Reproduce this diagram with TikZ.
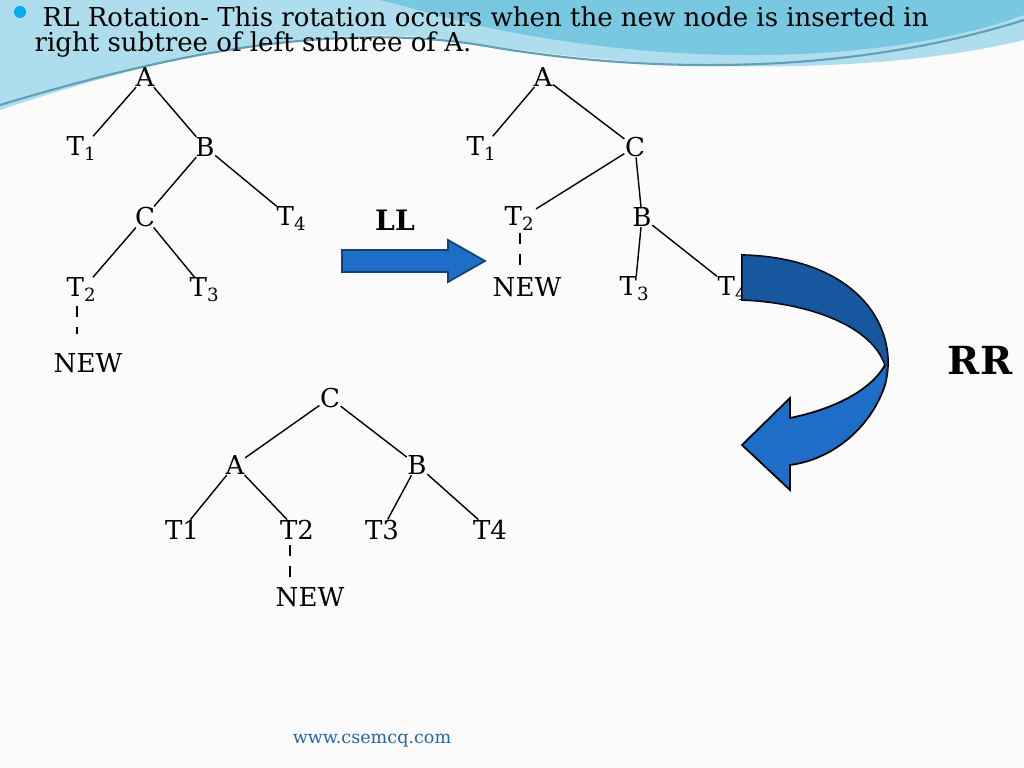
\documentclass[tikz,border=0pt]{standalone}
\usepackage{fontspec}
\setmainfont{DejaVu Serif}
\usetikzlibrary{positioning}
\definecolor{arrowblue}{RGB}{30,110,200}
\definecolor{bandblue}{RGB}{120,200,225}
\definecolor{webblue}{RGB}{40,100,170}
\begin{document}
\begin{tikzpicture}[x=0.01cm,y=-0.01cm,
    tn/.style={font=\fontsize{7.4}{8}\selectfont, inner sep=0pt},
    edge/.style={black, line width=0.4pt},
    newlink/.style={black, dashed, line width=0.4pt}]
    \useasboundingbox (0,0) rectangle (1024,768);
    \fill[white!97!gray] (0,0) rectangle (1024,768);

    % header band
    \fill[bandblue!60] (0,0) -- (1024,0) -- (1024,40) .. controls (900,70) and (700,80) .. (450,40) .. controls (300,20) and (120,70) .. (0,110) -- cycle;
    \fill[bandblue] (380,0) -- (1024,0) -- (1024,15) .. controls (900,60) and (700,70) .. (500,30) .. controls (450,20) and (420,10) .. (380,0) -- cycle;
    \draw[bandblue!80!black, line width=0.6pt] (0,105) .. controls (150,60) and (320,20) .. (480,45) .. controls (650,75) and (850,75) .. (1024,20);
    \fill[cyan] (20,12) circle (6);
    \node[tn, anchor=west] (title1) at (42,17) {RL Rotation- This rotation occurs when the new node is inserted in};
    \node[tn, anchor=west] (title2) at (34,45) {right subtree of left subtree of A.};

    % first tree
    \node[tn] (a1) at (145,77) {A};
    \node[tn] (ta1) at (82,149) {T\textsubscript{1}};
    \node[tn] (b1) at (205,147) {B};
    \node[tn] (c1) at (145,217) {C};
    \node[tn] (tb1) at (292,219) {T\textsubscript{4}};
    \node[tn] (tc1) at (82,290) {T\textsubscript{2}};
    \node[tn] (td1) at (205,290) {T\textsubscript{3}};
    \node[tn] (new1) at (88,363) {NEW};
    \draw[edge] (a1) -- (ta1);
    \draw[edge] (a1) -- (b1);
    \draw[edge] (b1) -- (c1);
    \draw[edge] (b1) -- (tb1);
    \draw[edge] (c1) -- (tc1);
    \draw[edge] (c1) -- (td1);
    \draw[newlink] (77,306) -- (77,334);

    % LL arrow
    \node[tn, font=\fontsize{8}{9}\selectfont\bfseries] (ll) at (395,220) {LL};
    \fill[arrowblue] (342,250) -- (448,250) -- (448,240) -- (485,261) -- (448,282) -- (448,272) -- (342,272) -- cycle;
    \draw[arrowblue!60!black, line width=0.5pt] (342,250) -- (448,250) -- (448,240) -- (485,261) -- (448,282) -- (448,272) -- (342,272) -- cycle;

    % second tree
    \node[tn] (a2) at (543,77) {A};
    \node[tn] (ta2) at (482,149) {T\textsubscript{1}};
    \node[tn] (c2) at (635,147) {C};
    \node[tn] (tc2) at (520,219) {T\textsubscript{2}};
    \node[tn] (b2) at (642,217) {B};
    \node[tn] (new2) at (527,287) {NEW};
    \node[tn] (td2) at (635,289) {T\textsubscript{3}};
    \node[tn] (tb2) at (733,289) {T\textsubscript{4}};
    \draw[edge] (a2) -- (ta2);
    \draw[edge] (a2) -- (c2);
    \draw[edge] (c2) -- (tc2);
    \draw[edge] (c2) -- (b2);
    \draw[edge] (b2) -- (td2);
    \draw[edge] (b2) -- (tb2);
    \draw[newlink] (520,233) -- (520,272);

    % RR curved arrow
    \fill[arrowblue, draw=black, line width=0.5pt] (742,255) .. controls (860,258) and (900,330) .. (885,385) .. controls (870,430) and (830,460) .. (790,465) -- (790,490) -- (742,445) -- (790,398) -- (790,418) .. controls (830,410) and (870,392) .. (885,365) .. controls (870,322) and (800,302) .. (742,300) -- cycle;
    \fill[arrowblue!60!black, opacity=0.5] (742,255) .. controls (860,258) and (900,330) .. (885,385) -- (885,365) .. controls (870,322) and (800,302) .. (742,300) -- cycle;
    \node[tn, font=\fontsize{11}{12}\selectfont\bfseries] (rr) at (980,360) {RR};

    % result tree
    \node[tn] (c3) at (330,398) {C};
    \node[tn] (a3) at (235,465) {A};
    \node[tn] (b3) at (417,465) {B};
    \node[tn] (t13) at (182,530) {T1};
    \node[tn] (t23) at (297,530) {T2};
    \node[tn] (t33) at (382,530) {T3};
    \node[tn] (t43) at (490,530) {T4};
    \node[tn] (new3) at (310,597) {NEW};
    \draw[edge] (c3) -- (a3);
    \draw[edge] (c3) -- (b3);
    \draw[edge] (a3) -- (t13);
    \draw[edge] (a3) -- (t23);
    \draw[edge] (b3) -- (t33);
    \draw[edge] (b3) -- (t43);
    \draw[newlink] (290,545) -- (290,585);

    \node[tn, font=\fontsize{5}{6}\selectfont, text=webblue] (web) at (372,741) {www.csemcq.com};
\end{tikzpicture}
\end{document}
